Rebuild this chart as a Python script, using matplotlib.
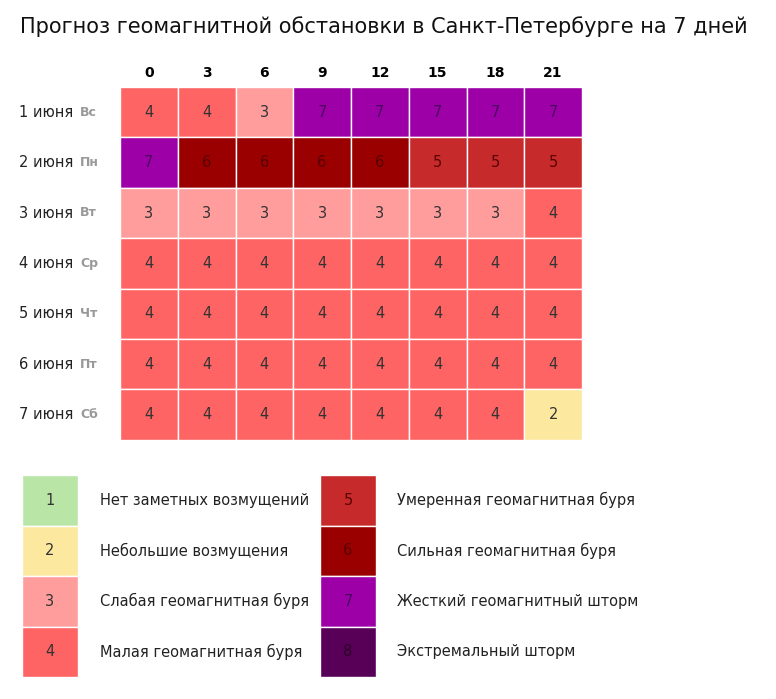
import matplotlib
matplotlib.use("Agg")
import matplotlib.pyplot as plt
from matplotlib.patches import Rectangle

title = "Прогноз геомагнитной обстановки в Санкт-Петербурге на 7 дней"
hours = ["0", "3", "6", "9", "12", "15", "18", "21"]
dates = ["1 июня", "2 июня", "3 июня", "4 июня", "5 июня", "6 июня", "7 июня"]
weekdays = ["Вс", "Пн", "Вт", "Ср", "Чт", "Пт", "Сб"]
values = [
    [4, 4, 3, 7, 7, 7, 7, 7],
    [7, 6, 6, 6, 6, 5, 5, 5],
    [3, 3, 3, 3, 3, 3, 3, 4],
    [4, 4, 4, 4, 4, 4, 4, 4],
    [4, 4, 4, 4, 4, 4, 4, 4],
    [4, 4, 4, 4, 4, 4, 4, 4],
    [4, 4, 4, 4, 4, 4, 4, 2],
]
levels = [1, 2, 3, 4, 5, 6, 7, 8]
level_labels = ["Нет заметных возмущений", "Небольшие возмущения", "Слабая геомагнитная буря",
                "Малая геомагнитная буря", "Умеренная геомагнитная буря", "Сильная геомагнитная буря",
                "Жесткий геомагнитный шторм", "Экстремальный шторм"]
colors = {1: "#b9e6a6", 2: "#fde8a0", 3: "#ff9c9c", 4: "#ff6464", 5: "#c62a2a",
          6: "#9a0000", 7: "#9c00a6", 8: "#580058"}
textcol = {1: "#333333", 2: "#333333", 3: "#333333", 4: "#333333", 5: "#5a0000",
           6: "#5a0000", 7: "#4a0060", 8: "#2a002a"}

fig = plt.figure(figsize=(7.76, 6.99), dpi=100)
ax = fig.add_axes([0, 0, 1, 1])
ax.set_xlim(0, 776)
ax.set_ylim(699, 0)
ax.axis("off")

ax.text(20, 27, title, fontsize=15, va="center", ha="left", color="#111111")

x0, y0, cw, ch = 120, 87, 57.75, 50.4
for j, h in enumerate(hours):
    ax.text(x0 + (j + 0.5) * cw, 73, h, ha="center", va="center", fontsize=10, fontweight="bold")
for i, row in enumerate(values):
    yc = y0 + (i + 0.5) * ch
    ax.text(73, yc, dates[i], ha="right", va="center", fontsize=10.5, color="#222222")
    ax.text(80, yc, weekdays[i], ha="left", va="center", fontsize=9, fontweight="bold", color="#999999")
    for j, v in enumerate(row):
        ax.add_patch(Rectangle((x0 + j * cw, y0 + i * ch), cw, ch, facecolor=colors[v],
                               edgecolor="white", linewidth=1))
        ax.text(x0 + (j + 0.5) * cw, yc, str(v), ha="center", va="center", fontsize=10.5,
                color=textcol[v])

ly0, lh = 475, 50.5
for k, lv in enumerate(levels):
    col, r = divmod(k, 4)
    bx = 22 if col == 0 else 320
    tx = 100 if col == 0 else 397
    by = ly0 + r * lh
    ax.add_patch(Rectangle((bx, by), 56, lh, facecolor=colors[lv], edgecolor="white", linewidth=1))
    ax.text(bx + 28, by + lh / 2, str(lv), ha="center", va="center", fontsize=10.5, color=textcol[lv])
    ax.text(tx, by + lh / 2, level_labels[k], ha="left", va="center", fontsize=10.5, color="#222222")

fig.savefig("out.png", dpi=100)
